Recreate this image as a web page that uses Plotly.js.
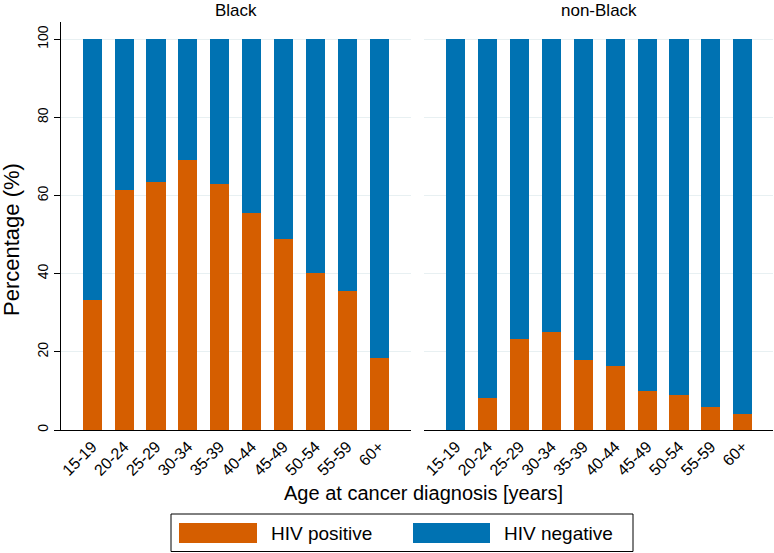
<!DOCTYPE html>
<html>
<head>
<meta charset="utf-8">
<script src="https://cdn.plot.ly/plotly-3.0.1.min.js"></script>
<style>
  html, body { margin: 0; padding: 0; background: #ffffff; }
  #chart { width: 774px; height: 553px; }
</style>
</head>
<body>
<div id="chart"></div>
<script>
// Age groups at cancer diagnosis
const ageGroups = ["15-19", "20-24", "25-29", "30-34", "35-39", "40-44", "45-49", "50-54", "55-59", "60+"];

// Share of HIV-positive patients (%) by age group
const blackPositive    = [33.2, 61.5, 63.4, 69.1, 62.9, 55.4, 49.0, 40.1, 35.5, 18.5];
const nonBlackPositive = [0.0, 8.3, 23.3, 25.1, 17.9, 16.5, 10.0, 9.0, 5.9, 4.1];

// Remaining share is HIV negative
const blackNegative    = blackPositive.map(v => +(100 - v).toFixed(1));
const nonBlackNegative = nonBlackPositive.map(v => +(100 - v).toFixed(1));

const panelTitles = ["Black", "non-Black"];
const seriesNames = ["HIV positive", "HIV negative"];
const yTicks = [0, 20, 40, 60, 80, 100];

const ORANGE = "#D55E00";
const BLUE = "#0072B2";
const FONT = "Liberation Sans, Arial, sans-serif";

// plot-area geometry in pixels, used to place the free-standing text and legend
const W = 774, H = 553;
const L = 61, R = 1, T = 22, B = 123;
const PW = W - L - R, PH = H - T - B;
const px = x => (x - L) / PW;
const py = y => (H - B - y) / PH;

function bar(x, y, name, color, xa, ya) {
  return {
    type: "bar", x: x, y: y, name: name,
    xaxis: xa, yaxis: ya,
    width: 0.6,
    marker: { color: color, line: { width: 0 } },
    showlegend: false,
    hoverinfo: "x+y+name"
  };
}

const data = [
  bar(ageGroups, blackPositive, seriesNames[0], ORANGE, "x", "y"),
  bar(ageGroups, blackNegative, seriesNames[1], BLUE, "x", "y"),
  bar(ageGroups, nonBlackPositive, seriesNames[0], ORANGE, "x2", "y2"),
  bar(ageGroups, nonBlackNegative, seriesNames[1], BLUE, "x2", "y2")
];

const xCommon = {
  type: "category",
  showline: true, linecolor: "#000000", linewidth: 1,
  ticks: "", tickangle: -45,
  tickfont: { family: FONT, size: 16, color: "#000000" },
  showgrid: false, zeroline: false, fixedrange: true
};

const yCommon = {
  range: [0, 104.4],
  tickvals: yTicks,
  showgrid: true, gridcolor: "#e8f0f2", gridwidth: 1,
  zeroline: false, fixedrange: true
};

const layout = {
  width: W, height: H,
  margin: { l: L, r: R, t: T, b: B, pad: 0 },
  paper_bgcolor: "#ffffff",
  plot_bgcolor: "#ffffff",
  barmode: "stack",
  font: { family: FONT, color: "#000000" },
  showlegend: false,
  xaxis: Object.assign({}, xCommon, {
    domain: [0, px(411)], anchor: "y", range: [-0.98, 10]
  }),
  xaxis2: Object.assign({}, xCommon, {
    domain: [px(424), 1], anchor: "y2", range: [-1, 9.95]
  }),
  yaxis: Object.assign({}, yCommon, {
    anchor: "x",
    showline: true, linecolor: "#000000", linewidth: 1,
    ticks: "outside", ticklen: 6, tickcolor: "#000000", tickwidth: 1,
    tickangle: -90,
    tickfont: { family: FONT, size: 14, color: "#000000" }
  }),
  yaxis2: Object.assign({}, yCommon, {
    anchor: "x2", matches: "y",
    showline: false, ticks: "", showticklabels: false
  }),
  annotations: [
    { text: panelTitles[0], xref: "paper", yref: "paper", x: px(235.5), y: py(10.5),
      xanchor: "center", yanchor: "middle", showarrow: false, borderpad: 0,
      font: { family: FONT, size: 17, color: "#000000" } },
    { text: panelTitles[1], xref: "paper", yref: "paper", x: px(599), y: py(10.5),
      xanchor: "center", yanchor: "middle", showarrow: false, borderpad: 0,
      font: { family: FONT, size: 17, color: "#000000" } },
    { text: "Age at cancer diagnosis [years]", xref: "paper", yref: "paper",
      x: px(423), y: py(493), xanchor: "center", yanchor: "middle", showarrow: false,
      font: { family: FONT, size: 20, color: "#000000" } },
    { text: "Percentage (%)", xref: "paper", yref: "paper",
      x: px(11), y: py(240), xanchor: "center", yanchor: "middle", showarrow: false,
      textangle: -90,
      font: { family: FONT, size: 22, color: "#000000" } },
    { text: seriesNames[0], xref: "paper", yref: "paper",
      x: px(269), y: py(533), xanchor: "left", yanchor: "middle", showarrow: false,
      font: { family: FONT, size: 19, color: "#000000" } },
    { text: seriesNames[1], xref: "paper", yref: "paper",
      x: px(502), y: py(533), xanchor: "left", yanchor: "middle", showarrow: false,
      font: { family: FONT, size: 19, color: "#000000" } }
  ],
  shapes: [
    // legend frame
    { type: "rect", xref: "paper", yref: "paper",
      x0: px(171), x1: px(633), y0: py(514), y1: py(551.5),
      line: { color: "#000000", width: 1 }, fillcolor: "rgba(0,0,0,0)" },
    // legend keys
    { type: "rect", xref: "paper", yref: "paper",
      x0: px(179), x1: px(257), y0: py(523), y1: py(543),
      line: { width: 0 }, fillcolor: ORANGE },
    { type: "rect", xref: "paper", yref: "paper",
      x0: px(413), x1: px(490), y0: py(523), y1: py(543),
      line: { width: 0 }, fillcolor: BLUE }
  ]
};

Plotly.newPlot("chart", data, layout, { staticPlot: true, displayModeBar: false });
</script>
</body>
</html>
